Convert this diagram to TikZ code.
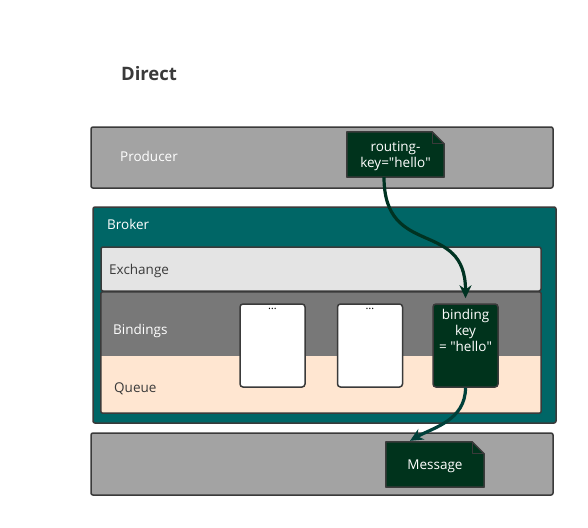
\documentclass[tikz,border=0pt]{standalone}
\usepackage{fontspec}
\setmainfont{Open Sans}
\usetikzlibrary{positioning,arrows.meta}

\definecolor{boxline}{HTML}{3A3A3A}
\definecolor{panelgray}{HTML}{A3A3A3}
\definecolor{brokerteal}{HTML}{006666}
\definecolor{exchangegray}{HTML}{E4E4E4}
\definecolor{bindinggray}{HTML}{787878}
\definecolor{queuepeach}{HTML}{FFE6D1}
\definecolor{notegreen}{HTML}{00331C}
\definecolor{flowgreen}{HTML}{003322}
\definecolor{flowteal}{HTML}{00403A}

\tikzset{
  box/.style={draw=boxline, line width=1.5pt, rounded corners=2pt},
  lbl/.style={anchor=west, inner sep=0pt, font=\fontsize{13.5}{16}\selectfont},
  card/.style={draw=boxline, line width=1.5pt, rounded corners=3pt, minimum width=65pt, minimum height=83pt},
  notetext/.style={text=white, align=center, inner sep=0pt, font=\fontsize{13.5}{16}\selectfont},
  flow/.style={line width=3.2pt, -{Stealth[length=13pt,width=12pt]}}
}

\newcommand{\dognote}[1]{%
  \draw[draw=boxline, line width=1.5pt, fill=notegreen, line join=round]
    (#1.south west) -- (#1.north west) -- ([xshift=-12pt]#1.north east)
    -- ([yshift=-12pt]#1.north east) -- (#1.south east) -- cycle;
  \draw[draw=boxline, line width=1pt, line join=round]
    ([xshift=-12pt]#1.north east) -- ([xshift=-12pt,yshift=-12pt]#1.north east)
    -- ([yshift=-12pt]#1.north east);
}
\newcommand{\qt}{\textquotedbl}

\begin{document}
\begin{tikzpicture}[x=1pt,y=-1pt]
\useasboundingbox[fill=white] (0,0) rectangle (588,527);

\node[inner sep=0pt, font=\fontsize{18.5}{22}\selectfont\bfseries, text=boxline] (title) at (149,74) {Direct};

% producer
\node[box, fill=panelgray, minimum width=462pt, minimum height=61pt] (producer) at (322,157.5) {};
\node[lbl, text=white] (producerlbl) at (120,156) {Producer};

\node[minimum width=97pt, minimum height=45pt, inner sep=0pt] (rkey) at (395.5,154.5) {};
\dognote{rkey}
\node[notetext] (rkeytxt) at ([yshift=-1.5pt]rkey.center) {routing-\\key=\qt hello\qt};

% broker
\node[box, fill=brokerteal, minimum width=463pt, minimum height=216pt] (broker) at (324.5,315) {};
\node[lbl, text=white] (brokerlbl) at (107,224) {Broker};

\node[box, fill=exchangegray, minimum width=440pt, minimum height=44pt] (exchange) at (321,269) {};
\node[lbl, text=boxline] (exchangelbl) at (109,271) {Exchange};

\node[fill=bindinggray, minimum width=440pt, minimum height=64pt, inner sep=0pt] (bindings) at (321,324) {};
\node[fill=queuepeach, minimum width=440pt, minimum height=57pt, inner sep=0pt] (queue) at (321,384.5) {};
\draw[box] (bindings.north west) rectangle (queue.south east);
\node[lbl, text=white] (bindingslbl) at (113,331) {Bindings};
\node[lbl, text=boxline] (queuelbl) at (114,389) {Queue};

\node[card, fill=white] (card1) at (272.5,345.5) {};
\node[card, fill=white] (card2) at (370,345.5) {};
\node[card, fill=notegreen] (bkey) at (465.5,345.5) {};
\node[below=5pt of card1.north, inner sep=0pt, font=\fontsize{11}{12}\selectfont] (dots1) {\dots};
\node[below=5pt of card2.north, inner sep=0pt, font=\fontsize{11}{12}\selectfont] (dots2) {\dots};
\node[notetext, below=6pt of bkey.north] (bkeytxt) {binding\\key\\= \qt hello\qt};

% consumer side
\node[box, fill=panelgray, minimum width=462pt, minimum height=62pt] (consumer) at (322,464) {};
\node[minimum width=98pt, minimum height=45pt, inner sep=0pt] (message) at (435,464.5) {};
\dognote{message}
\node[notetext] (messagetxt) at ([yshift=-1.5pt]message.center) {Message};

% flows
\draw[flow, draw=flowgreen] ([xshift=-11.5pt]rkey.south) .. controls ([xshift=-11.5pt,yshift=-82pt]rkey.south) and ([yshift=85pt]bkey.north) .. ([yshift=5pt]bkey.north);
\draw[flow, draw=flowteal] (bkey.south) .. controls ([yshift=-33pt]bkey.south) and (432,428) .. ([xshift=-25pt,yshift=1pt]message.north);
\end{tikzpicture}
\end{document}
